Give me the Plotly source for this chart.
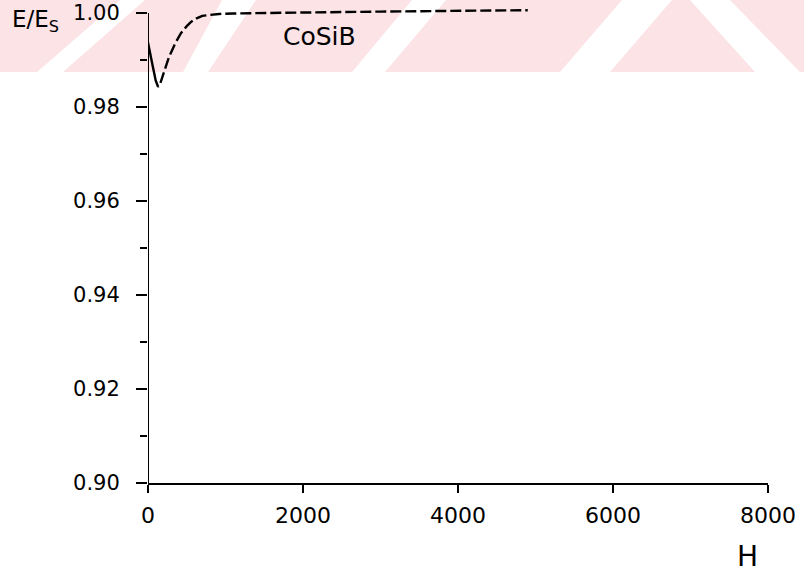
import plotly.graph_objects as go

# ---- data ----
H = [0, 30, 60, 100, 130, 160, 200, 270, 350, 425, 500, 555, 620, 700, 800, 915,
     1100, 1400, 2000, 3000, 4000, 4900]
E = [0.9937, 0.9915, 0.9888, 0.9856, 0.9843, 0.9851, 0.9872, 0.9906, 0.9935, 0.9957,
     0.9972, 0.9981, 0.9988, 0.9994, 0.9996, 0.9998, 0.9999, 1.0000, 1.0001, 1.0003,
     1.0005, 1.0006]
x_ticks = [0, 2000, 4000, 6000, 8000]
y_ticks = [0.90, 0.92, 0.94, 0.96, 0.98, 1.00]
y_tick_text = ["0.90", "0.92", "0.94", "0.96", "0.98", "1.00"]
series_name = "CoSiB"

W, Ht = 804, 574
L, R, T, B = 148, 36, 4, 91
PW, PH = W - L - R, Ht - T - B
Y_TOP = 1.0 + 9 / 4700.0  # small headroom so the flat tail is not clipped


def px(xp):
    return (xp - L) / PW


def py(yp):
    return (Ht - B - yp) / PH


# first arm of the dip is solid, the rest dashed
dash = "46px,4px," + ",".join(["11px,4px"] * 60)

fig = go.Figure()
fig.add_trace(go.Scatter(x=H, y=E, mode="lines", name=series_name,
                         line=dict(color="black", width=2.4, dash=dash),
                         showlegend=False, hoverinfo="skip"))

# watermark band (decoration)
pink = "#fbe3e6"
shapes = [dict(type="rect", xref="paper", yref="paper", x0=px(0), x1=px(W),
               y0=py(72), y1=py(0), fillcolor=pink, line=dict(width=0), layer="below")]
stripes = [((37, 63), (120, 145)), ((183, 208), (222, 256)), ((352, 385), (412, 446)),
           ((560, 610), (622, 672))]
for (b0, b1), (t0, t1) in stripes:
    path = (f"M {px(b0)} {py(72)} L {px(b1)} {py(72)} L {px(t1)} {py(0)} "
            f"L {px(t0)} {py(0)} Z")
    shapes.append(dict(type="path", xref="paper", yref="paper", path=path,
                       fillcolor="white", line=dict(width=0), layer="below"))
# "\" stripe on right
path = f"M {px(690)} {py(0)} L {px(730)} {py(0)} L {px(800)} {py(72)} L {px(755)} {py(72)} Z"
shapes.append(dict(type="path", xref="paper", yref="paper", path=path,
                   fillcolor="white", line=dict(width=0), layer="below"))

fig.update_layout(
    width=W, height=Ht,
    margin=dict(l=L, r=R, t=T, b=B, pad=0, autoexpand=False),
    paper_bgcolor="white", plot_bgcolor="rgba(0,0,0,0)",
    font=dict(family="DejaVu Sans", color="black"),
    shapes=shapes,
    xaxis=dict(range=[0, 8000], tickvals=x_ticks, ticktext=[str(v) for v in x_ticks],
               automargin=False,
               showgrid=False, zeroline=False, showline=True, linecolor="black",
               linewidth=2, ticks="outside", ticklen=8, tickwidth=1.5, tickcolor="black",
               tickfont=dict(size=22, family="DejaVu Sans"), ticklabelstandoff=4),
    yaxis=dict(range=[0.90, Y_TOP], tickvals=y_ticks, ticktext=y_tick_text,
               automargin=False,
               showgrid=False, zeroline=False, showline=False,
               ticks="outside", ticklen=11, tickwidth=1.5, tickcolor="black",
               tickfont=dict(size=21, family="DejaVu Sans"), ticklabelstandoff=12,
               minor=dict(dtick=0.01, tick0=0.90, ticks="outside", ticklen=7,
                          tickwidth=1.5, tickcolor="black")),
    annotations=[
        dict(text="E/E<sub>S</sub>", xref="paper", yref="paper", x=px(10), y=py(21),
             xanchor="left", yanchor="middle", showarrow=False,
             font=dict(size=23, family="DejaVu Sans")),
        dict(text=series_name, xref="x", yref="y", x=1720, y=0.9951,
             xanchor="left", yanchor="middle", showarrow=False,
             font=dict(size=25, family="DejaVu Sans")),
        dict(text="H", xref="paper", yref="paper", x=px(747), y=py(556),
             xanchor="center", yanchor="middle", showarrow=False,
             font=dict(size=28, family="DejaVu Sans")),
    ],
)
# y axis line from 0.90 up to 1.00 only (as in the reference)
fig.add_shape(type="line", xref="x", yref="y", x0=0, x1=0, y0=0.90, y1=1.00,
              line=dict(color="black", width=2))

fig.write_html("out.html")
